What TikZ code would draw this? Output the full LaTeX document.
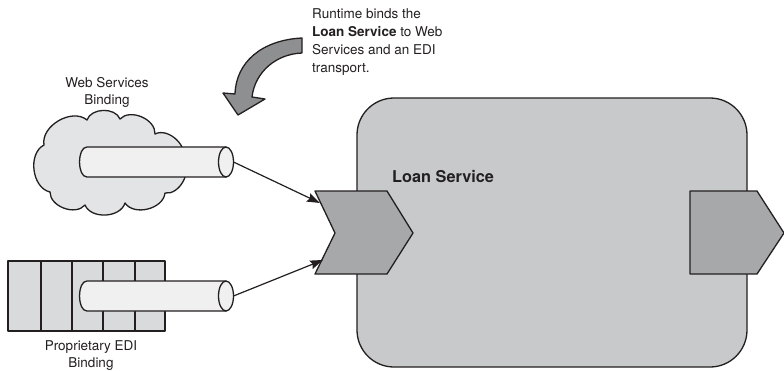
\documentclass[tikz,border=0pt]{standalone}
\usepackage{fontspec}
\setmainfont{TeX Gyre Heros}
\usetikzlibrary{arrows.meta}

\definecolor{ink}{HTML}{231F20}
\definecolor{boxgray}{HTML}{C8C9CB}
\definecolor{portgray}{HTML}{A7A8AA}
\definecolor{cloudgray}{HTML}{E3E4E6}
\definecolor{pipegray}{HTML}{F0F0F0}
\definecolor{slotgray}{HTML}{D9DADC}
\definecolor{bendgray}{HTML}{8E8F91}

\tikzset{
  outline/.style={draw=ink, line width=1.3pt, line join=round},
  servicebox/.style={outline, fill=boxgray, rounded corners=37pt},
  port/.style={outline, fill=portgray},
  pipe/.style={outline, fill=pipegray},
  slot/.style={outline, fill=slotgray},
  cloudy/.style={outline, fill=cloudgray},
  link/.style={draw=ink, line width=1.2pt, -{Stealth[length=13pt,width=9pt,inset=2pt]}},
  caption/.style={font=\fontsize{13.5}{17}\selectfont, text=ink, inner sep=0pt, align=center},
  note/.style={font=\fontsize{13.5}{18}\selectfont, text=ink, inner sep=0pt, align=left, anchor=north west},
  title/.style={font=\fontsize{16.3}{19}\selectfont\bfseries, text=ink, inner sep=0pt, anchor=base west}
}

\begin{document}
\begin{tikzpicture}[x=1pt, y=-1pt]
  \useasboundingbox (0,0) rectangle (784,370);

  % Loan Service component
  \draw[servicebox] (357,98) rectangle (747,367);
  \node[title] (svc) at (392,182) {Loan Service};

  % service (inbound) chevron on the left edge
  \draw[port] (315,191) -- (387,191) -- (413,233) -- (387,274) -- (315,274) -- (335,233) -- cycle;
  \coordinate (inTop) at (320,203);
  \coordinate (inBot) at (323,260);

  % reference (outbound) port on the right edge
  \draw[port] (690,191) -- (757,191) -- (784,233) -- (757,274) -- (690,274) -- cycle;

  % Web Services binding: cloud
  \draw[cloudy] (44,145)
     to[bend left=70] (87,120)
     to[bend left=70] (120,119)
     to[bend left=70] (155,134)
     to[bend left=70] (183,160)
     to[bend left=70] (165,193)
     to[bend left=70] (125,203)
     to[bend left=70] (85,205)
     to[bend left=70] (50,192)
     to[bend left=70] (44,145) -- cycle;

  % Proprietary EDI binding: row of slots
  \foreach \xa/\xb in {8/41, 41/72, 72/103, 103/135, 135/165}
    \draw[slot] (\xa,261) rectangle (\xb,331);

  % binding pipes
  \foreach \yc/\nm in {162/webend, 296/ediend} {
    \draw[pipe] (87,\yc-15) -- (226,\yc-15) -- (226,\yc+15) -- (87,\yc+15)
      .. controls (77,\yc+15) and (77,\yc-15) .. (87,\yc-15) -- cycle;
    \draw[pipe] (226,\yc) ellipse [x radius=7.5, y radius=15];
    \coordinate (\nm) at (233.5,\yc);
  }

  % wires into the service
  \draw[link] (webend) -- (inTop);
  \draw[link] (ediend) -- (inBot);

  % curved call-out arrow
  \draw[outline, fill=bendgray] (302,38)
     .. controls (262,40) and (236,62) .. (235,94)
     -- (223,93) -- (238,115) -- (265,99) -- (252,97)
     .. controls (255,72) and (276,54) .. (302,53) -- cycle;

  % labels
  \node[caption, anchor=north] (weblbl) at (107,77) {Web Services\\Binding};
  \node[caption, anchor=north] (edilbl) at (91,340) {Proprietary EDI\\Binding};
  \node[note] (runtime) at (312,8) {Runtime binds the\\\textbf{Loan Service} to Web\\Services and an EDI\\transport.};
\end{tikzpicture}
\end{document}
